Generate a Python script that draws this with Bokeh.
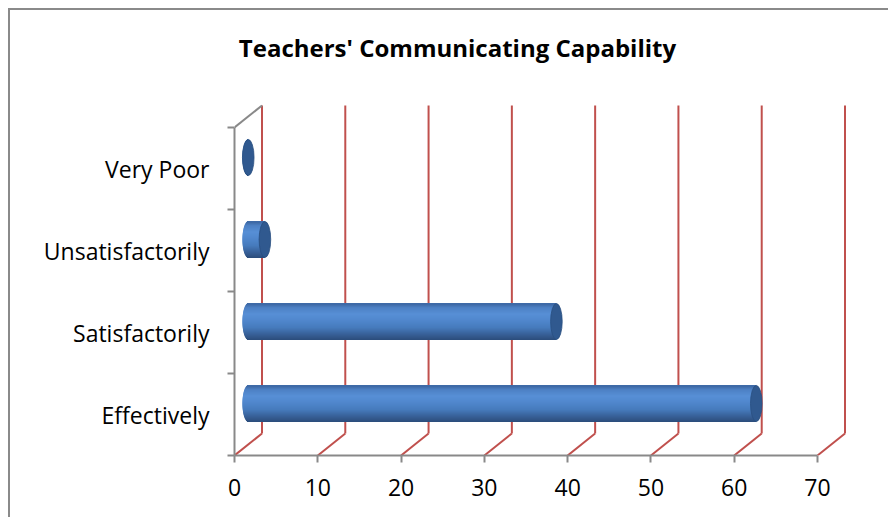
import numpy as np
from bokeh.plotting import figure
from bokeh.models import Range1d, FixedTicker, Label
from bokeh.embed import file_html
from bokeh.resources import INLINE

# ---- data ----
categories = ["Effectively", "Satisfactorily", "Unsatisfactorily", "Very Poor"]
values = [61, 37, 2, 0]
x_ticks = [0, 10, 20, 30, 40, 50, 60, 70]
chart_title = "Teachers' Communicating Capability"

# ---- geometry (pixel scale helpers) ----
PX_X = 583 / 70.0      # px per x unit
PX_Y = 82.0            # px per category
DX = 27.5 / PX_X       # depth offset in data units
DY = 22.0 / PX_Y
N = len(categories)

OFF = 10               # css margin + border
W, H = 880, 509
ML = 234 - OFF
MT = 20 - OFF
MR = W - (851 - OFF)
MB = H - (455 - OFF)
p = figure(width=W, height=H, output_backend="svg", toolbar_location=None, title=None,
           x_range=Range1d(0, (W - ML - MR) / PX_X),
           y_range=Range1d(0, (H - MT - MB) / PX_Y),
           min_border_left=ML, min_border_right=MR, min_border_top=MT, min_border_bottom=MB)
p.outline_line_color = None
p.xgrid.visible = False
p.ygrid.visible = False
p.background_fill_color = "white"
p.border_fill_color = "white"
p.styles = {"margin-left": "8px", "margin-top": "8px",
            "border-left": "2px solid #8a8a8a", "border-top": "2px solid #8a8a8a"}

FONT = "Open Sans"
GRAY = "#898989"
RED = "#c0504d"

# x axis
xa = p.xaxis[0]
xa.ticker = FixedTicker(ticks=x_ticks)
xa.bounds = (x_ticks[0], x_ticks[-1])
xa.axis_line_color = GRAY
xa.axis_line_width = 2
xa.major_tick_line_color = GRAY
xa.major_tick_line_width = 2
xa.major_tick_out = 7
xa.major_tick_in = 0
xa.minor_tick_line_color = None
xa.major_label_text_font = FONT
xa.major_label_text_font_size = "23px"
xa.major_label_text_color = "black"
xa.major_label_standoff = 16

# y axis
ya = p.yaxis[0]
centers = [i + 0.5 for i in range(N)]
ya.ticker = FixedTicker(ticks=centers, minor_ticks=list(range(N + 1)))
ya.bounds = (0, N)
ya.major_label_overrides = {c: name for c, name in zip(centers, categories)}
ya.axis_line_color = GRAY
ya.axis_line_width = 2
ya.major_tick_line_color = None
ya.major_tick_out = 0
ya.major_tick_in = 0
ya.minor_tick_line_color = GRAY
ya.minor_tick_line_width = 2
ya.minor_tick_out = 7
ya.minor_tick_in = 0
ya.major_label_text_font = FONT
ya.major_label_text_font_size = "23px"
ya.major_label_text_color = "black"
ya.major_label_standoff = 18

# back wall gridlines and floor lines
gx = [v + DX for v in x_ticks]
p.segment(x0=gx, y0=[DY] * len(gx), x1=gx, y1=[N + DY] * len(gx),
          line_color=RED, line_width=2)
p.segment(x0=x_ticks, y0=[0] * len(gx), x1=gx, y1=[DY] * len(gx),
          line_color=RED, line_width=2)
p.segment(x0=[0], y0=[N], x1=[DX], y1=[N + DY], line_color=GRAY, line_width=2)

# cylinders (vertical shading built from thin stripes)
stops = [(0.0, (0x2b, 0x4c, 0x7a)), (0.15, (0x37, 0x5f, 0x96)), (0.35, (0x46, 0x7b, 0xbd)),
         (0.55, (0x50, 0x87, 0xcd)), (0.72, (0x57, 0x8f, 0xd6)), (0.9, (0x4c, 0x80, 0xc3)),
         (1.0, (0x3c, 0x67, 0xa2))]

def grad(t):
    for (t0, c0), (t1, c1) in zip(stops[:-1], stops[1:]):
        if t <= t1:
            f = (t - t0) / (t1 - t0)
            return "#%02x%02x%02x" % tuple(int(round(a + (b - a) * f)) for a, b in zip(c0, c1))
    return "#%02x%02x%02x" % stops[-1][1]

BAR_H = 36.0 / PX_Y
CAP_A = 5.8 / PX_X
NS = 36
ys, lefts, rights, cols = [], [], [], []
cap_x, cap_y = [], []
for i, v in enumerate(values):
    yc = i + 0.5 + DY / 2
    x0 = DX / 2
    x1 = x0 + v
    for k in range(NS):
        t = -1 + (2 * k + 1) / NS          # -1 bottom .. 1 top
        ys.append(yc + t * BAR_H / 2)
        lefts.append(x0 - CAP_A * np.sqrt(max(0.0, 1 - t * t)))
        rights.append(x1)
        cols.append(grad((t + 1) / 2))
    cap_x.append(x1)
    cap_y.append(yc)
p.hbar(y=ys, left=lefts, right=rights, height=BAR_H / NS * 2.2,
       fill_color=cols, line_color=None)
p.ellipse(x=cap_x, y=cap_y, width=2 * CAP_A, height=BAR_H,
          fill_color="#30598f", line_color="#2a4f80", line_width=0.8)

# title
p.add_layout(Label(x=(457 - 234) / PX_X, y=(455 - 47) / PX_Y, text=chart_title,
                   text_align="center", text_baseline="middle",
                   text_font=FONT, text_font_style="bold", text_font_size="24px",
                   text_color="black"))

open("out.html", "w").write(file_html(p, INLINE))
